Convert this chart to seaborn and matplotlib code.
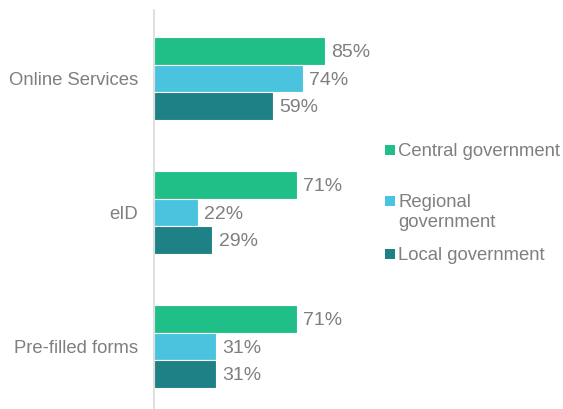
import matplotlib
matplotlib.use("Agg")
import matplotlib.pyplot as plt
from matplotlib.patches import Rectangle
import seaborn as sns
import pandas as pd

categories = ["Online Services", "eID", "Pre-filled forms"]
series = ["Central government", "Regional government", "Local government"]
central = [85, 71, 71]
regional = [74, 22, 31]
local = [59, 29, 31]
legend_labels = ["Central government", "Regional\ngovernment", "Local government"]
colors = ["#1FBF87", "#4AC4DE", "#1E8186"]

rows = []
for s, vals in zip(series, [central, regional, local]):
    for c, v in zip(categories, vals):
        rows.append({"category": c, "series": s, "value": v})
df = pd.DataFrame(rows)

sns.set_style("white")
plt.rcParams["font.family"] = ["Liberation Sans", "DejaVu Sans"]
text_color = "#7F7F7F"

W, H = 563, 409
fig = plt.figure(figsize=(W / 100, H / 100), dpi=100)
ax = fig.add_axes([154 / W, 0, (W - 154) / W, (H - 10) / H])

sns.barplot(data=df, y="category", x="value", hue="series", order=categories,
            hue_order=series, palette=colors, saturation=1, orient="h", width=0.62,
            edgecolor="white", linewidth=0.8, legend=False, ax=ax, errorbar=None)

ax.set_xlim(0, (W - 154) / 2.01)
ax.set_ylim(2.466, -0.511)
ax.set_xlabel("")
ax.set_ylabel("")
ax.set_xticks([])
ax.tick_params(axis="y", length=0, pad=11.5, labelsize=13.3, labelcolor=text_color)
for sp in ["top", "right", "bottom"]:
    ax.spines[sp].set_visible(False)
ax.spines["left"].set_color("#D9D9D9")
ax.spines["left"].set_linewidth(1.2)

for cont in ax.containers:
    for patch, v in zip(cont.patches, cont.datavalues):
        ax.annotate(f"{int(v)}%", (patch.get_width(), patch.get_y() + patch.get_height() / 2),
                    xytext=(4.5, -1.2), textcoords="offset points", fontsize=14,
                    color=text_color, va="center", ha="left")

# legend
leg_y = [150, 201, 254]
for ym, lab, col in zip(leg_y, legend_labels, colors):
    fig.patches.append(Rectangle((385 / W, 1 - (ym + 5) / H), 10 / W, 10 / H,
                                 transform=fig.transFigure, facecolor=col,
                                 edgecolor="none"))
    if "\n" in lab:
        fig.text(398 / W, 1 - (ym - 7) / H, lab, fontsize=13.3, color=text_color,
                 va="top", ha="left", linespacing=1.2)
    else:
        fig.text(398 / W, 1 - (ym + 1) / H, lab, fontsize=13.3, color=text_color,
                 va="center", ha="left")

fig.savefig("out.png", dpi=100)
